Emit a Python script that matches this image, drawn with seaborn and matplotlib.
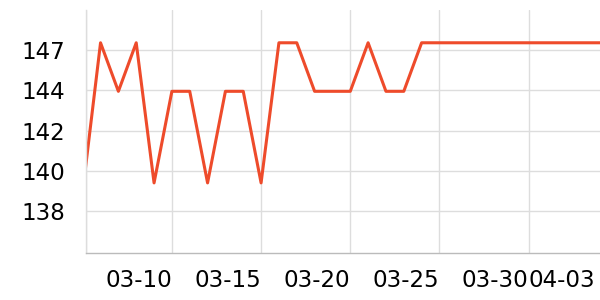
import matplotlib
matplotlib.use("Agg")
import matplotlib.pyplot as plt
import matplotlib.dates as mdates
import matplotlib.transforms as mtransforms
import pandas as pd
import seaborn as sns

# ---- data ----
dates = pd.date_range("2024-03-05", "2024-04-03", freq="D")
values = [138.9, 147.0, 144.35, 147.0, 139.35,
          144.35, 144.35, 139.35, 144.35, 144.35,
          139.35, 147.0, 147.0, 144.35, 144.35,
          144.35, 147.0, 144.35, 144.35, 147.0,
          147.0, 147.0, 147.0, 147.0, 147.0,
          147.0, 147.0, 147.0, 147.0, 147.0]
y_tick_values = [137.8, 140.0, 142.2, 144.4, 146.6]
y_tick_labels = ["138", "140", "142", "144", "147"]
x_tick_dates = pd.to_datetime(["2024-03-10", "2024-03-15", "2024-03-20",
                               "2024-03-25", "2024-03-30", "2024-04-03"])

df = pd.DataFrame({"date": dates, "value": values})

sns.set_style("white")
plt.rcParams["font.family"] = ["DejaVu Sans"]

fig = plt.figure(figsize=(6, 3), dpi=100)
ax = fig.add_axes([0.1428, 0.1577, 0.8572, 0.809])

sns.lineplot(data=df, x="date", y="value", ax=ax, color="#EE4B2B",
             linewidth=2.2, clip_on=True)

x_left = pd.Timestamp("2024-03-05 04:00")
x_right = pd.Timestamp("2024-04-03 00:00")
ax.set_xlim(x_left, x_right)
ax.set_ylim(135.54, 148.79)

ax.set_yticks(y_tick_values)
ax.set_yticklabels(y_tick_labels)
ticks = [x_left] + list(x_tick_dates)
ax.set_xticks(mdates.date2num(ticks))
ax.set_xticklabels([""] + [d.strftime("%m-%d") for d in x_tick_dates],
                   ha="right")

ax.grid(True, color="#DDDDDD", linewidth=1)
ax.set_axisbelow(True)
ax.set_xlabel("")
ax.set_ylabel("")

for s in ["top", "right"]:
    ax.spines[s].set_visible(False)
ax.spines["left"].set_color("#DDDDDD")
ax.spines["left"].set_linewidth(1)
ax.spines["bottom"].set_color("#BBBBBB")
ax.spines["bottom"].set_linewidth(1)

ax.tick_params(axis="y", length=0, pad=15, labelsize=16.6, colors="black")
ax.tick_params(axis="x", length=3, width=1, color="#BBBBBB", pad=8.5,
               labelsize=16.6, labelcolor="black")

# last label sits clamped just inside the right edge, no grid line there
last_tick = ax.xaxis.get_major_ticks()[-1]
last_tick.gridline.set_visible(False)
last_tick.tick1line.set_visible(False)
shift = mtransforms.ScaledTranslation(-4.5 / 100, 0, fig.dpi_scale_trans)
last_tick.label1.set_transform(last_tick.label1.get_transform() + shift)

fig.savefig("out.png", dpi=100)
